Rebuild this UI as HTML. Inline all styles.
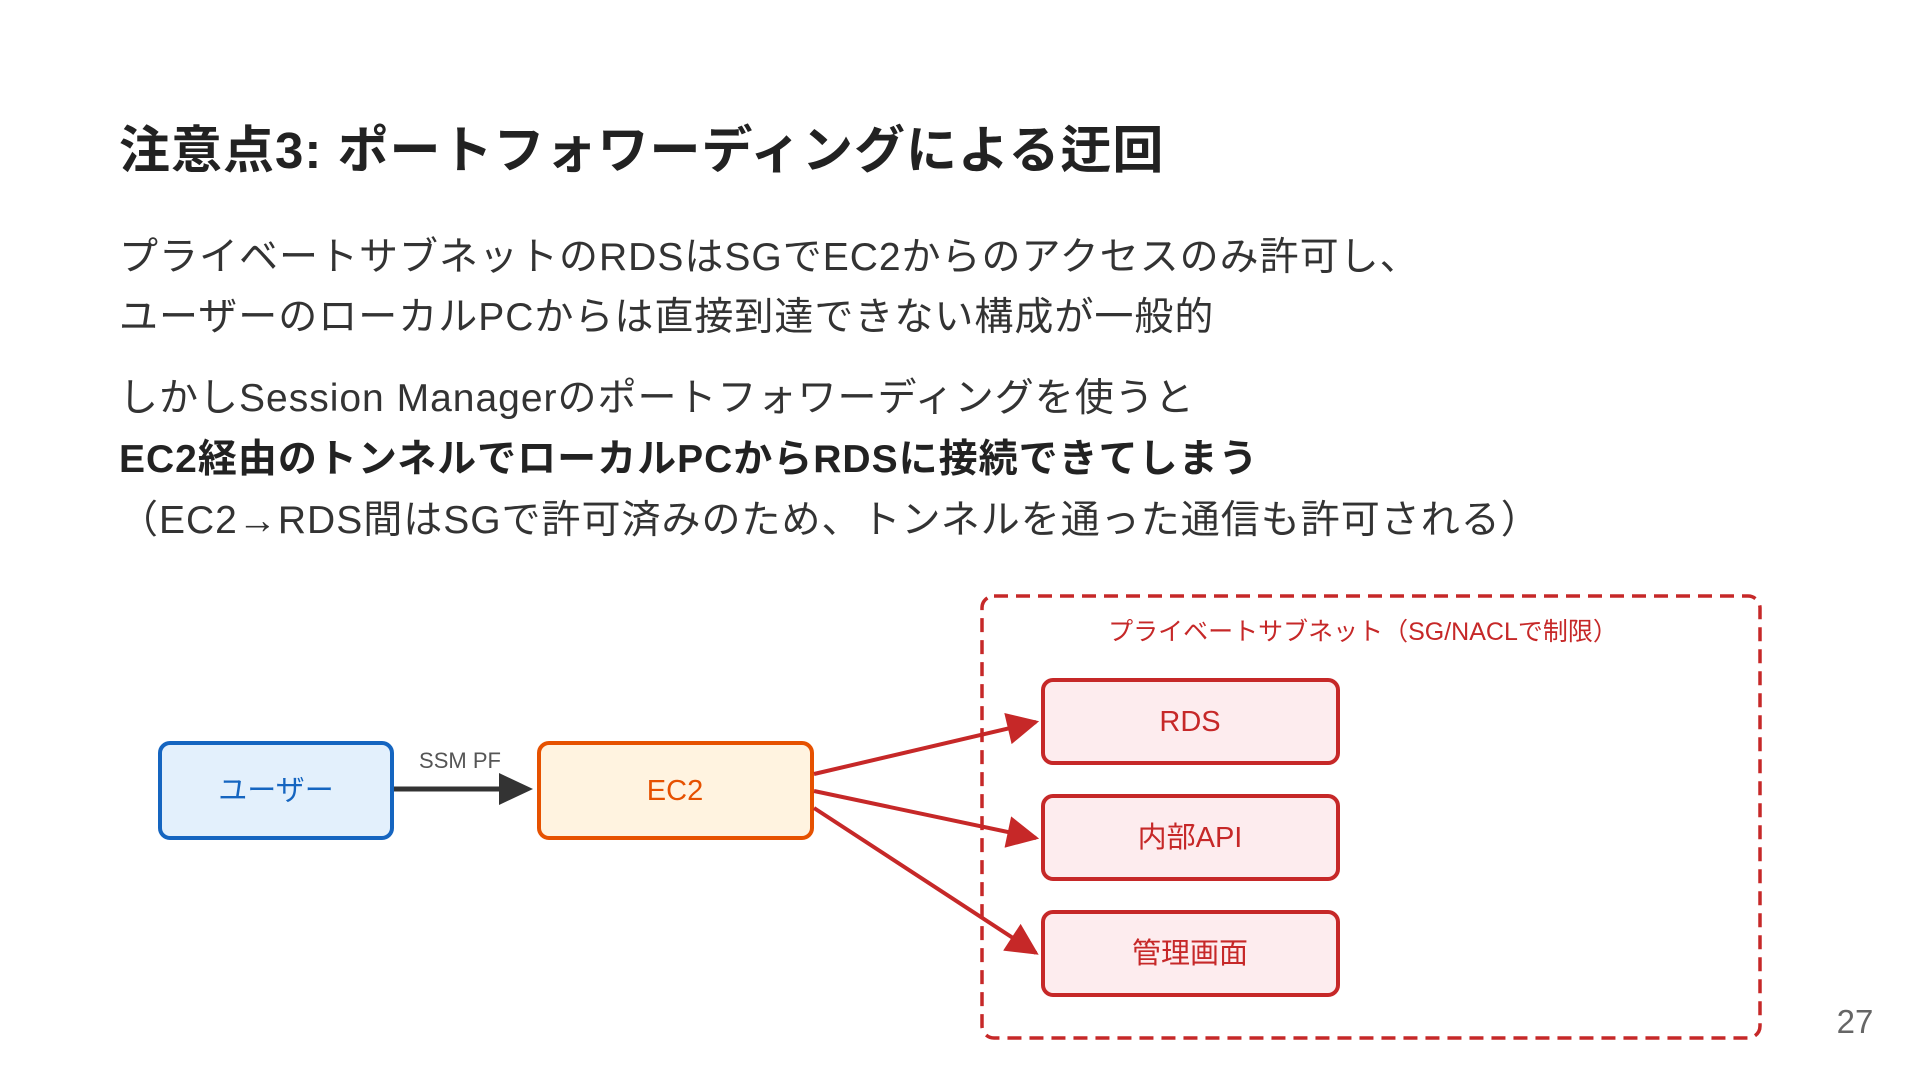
<!DOCTYPE html>
<html><head><meta charset="utf-8"><style>
body{margin:0;width:1920px;height:1080px;background:#fff;position:relative;overflow:hidden;font-family:"Liberation Sans","Noto Sans CJK JP",sans-serif;color:#222}
.t{position:absolute;left:119px;white-space:nowrap}
</style></head><body>
<div class="t" style="top:119px;font-size:51px;font-weight:bold;line-height:64px;letter-spacing:1px">注意点3: ポートフォワーディングによる迂回</div>
<div class="t" style="top:228px;font-size:39px;line-height:60px;color:#333;letter-spacing:1px">プライベートサブネットのRDSはSGでEC2からのアクセスのみ許可し、<br>ユーザーのローカルPCからは直接到達できない構成が一般的</div>
<div class="t" style="top:368px;font-size:39px;line-height:61px;color:#333;letter-spacing:1px">しかしSession Managerのポートフォワーディングを使うと<br><b style="color:#222">EC2経由のトンネルでローカルPCからRDSに接続できてしまう</b><br>（EC2→RDS間はSGで許可済みのため、トンネルを通った通信も許可される）</div>
<svg width="1920" height="1080" style="position:absolute;left:0;top:0" font-family="Liberation Sans, Noto Sans CJK JP, sans-serif">
<defs>
<marker id="r" viewBox="0 0 10 10" refX="9" refY="5" markerWidth="36" markerHeight="32" orient="auto" markerUnits="userSpaceOnUse"><path d="M0,0L10,5L0,10z" fill="#c62828"/></marker>
</defs>
<rect x="982" y="596" width="778" height="442" rx="12" fill="none" stroke="#c62828" stroke-width="3.5" stroke-dasharray="14,8"/>
<text x="1363" y="640" font-size="25" fill="#c62828" text-anchor="middle">プライベートサブネット（SG/NACLで制限）</text>
<rect x="160" y="743" width="232" height="95" rx="10" fill="#e3f0fc" stroke="#1565c0" stroke-width="4"/>
<text x="276" y="800" font-size="29" fill="#1565c0" text-anchor="middle">ユーザー</text>
<rect x="539" y="743" width="273" height="95" rx="10" fill="#fff3e0" stroke="#e65100" stroke-width="4"/>
<text x="675" y="800" font-size="29" fill="#e65100" text-anchor="middle">EC2</text>
<g fill="#fdecee" stroke="#c62828" stroke-width="4">
<rect x="1043" y="680" width="295" height="83" rx="10"/>
<rect x="1043" y="796" width="295" height="83" rx="10"/>
<rect x="1043" y="912" width="295" height="83" rx="10"/>
</g>
<g font-size="29" fill="#c62828" text-anchor="middle">
<text x="1190" y="731">RDS</text><text x="1190" y="847">内部API</text><text x="1190" y="963">管理画面</text>
</g>
<text x="460" y="768" font-size="22" fill="#555" text-anchor="middle">SSM PF</text>
<line x1="394" y1="789" x2="500" y2="789" stroke="#333" stroke-width="5"/>
<path d="M533,789l-34,-16v32z" fill="#333"/>
<g stroke="#c62828" stroke-width="4" marker-end="url(#r)">
<line x1="814" y1="774" x2="1036" y2="722"/>
<line x1="814" y1="791" x2="1036" y2="838"/>
<line x1="814" y1="808" x2="1036" y2="953"/>
</g>
<text x="1855" y="1033" font-size="33" fill="#666" text-anchor="middle">27</text>
</svg>
</body></html>
